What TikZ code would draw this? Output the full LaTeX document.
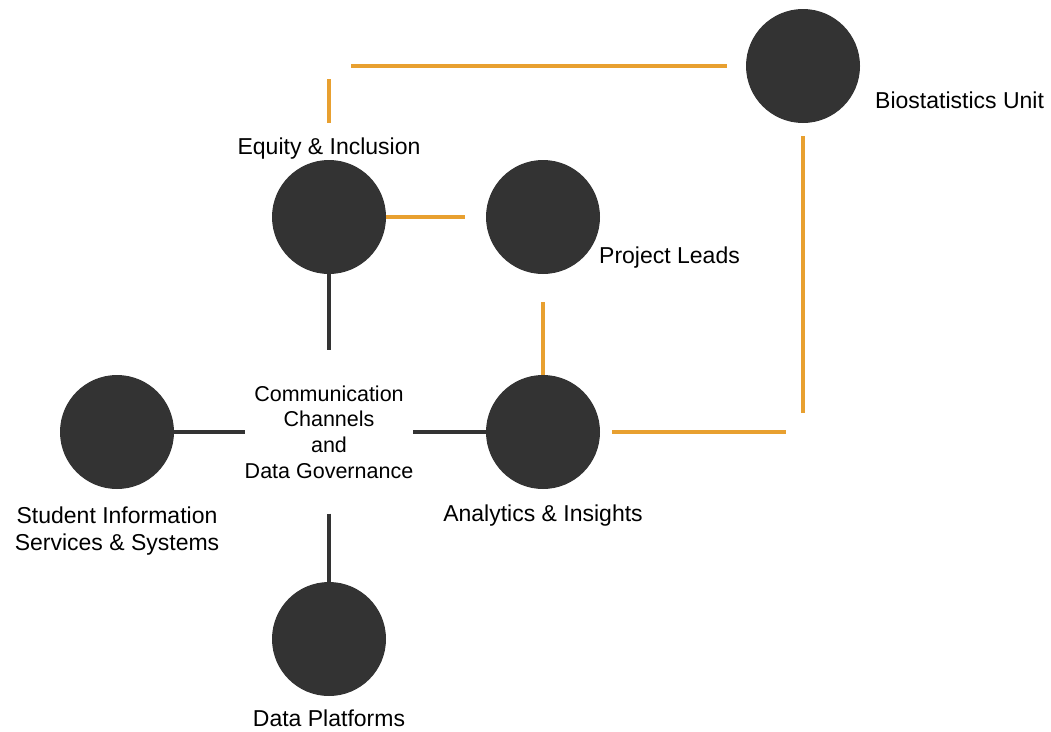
\documentclass[tikz,border=0pt]{standalone}
\usepackage{fontspec}
\setmainfont{Liberation Sans}
\usetikzlibrary{positioning}
\definecolor{dot}{HTML}{333333}
\definecolor{amber}{HTML}{E8A030}
\tikzset{
  hub/.style  = {circle, fill=dot, minimum size=114pt, inner sep=0pt},
  tag/.style  = {inner sep=0pt, text=black, font=\fontsize{23}{27}\selectfont, align=center},
  core/.style = {minimum width=165pt, minimum height=163pt, inner sep=0pt,
                 font=\fontsize{21.5}{25.7}\selectfont, align=center},
  grey/.style = {draw=dot, line width=3.8pt},
  gold/.style = {draw=amber, line width=3.8pt}
}

\begin{document}
\begin{tikzpicture}[x=1pt,y=-1pt]
  \useasboundingbox (0,0) rectangle (1051,731);

  % the six units and the hub in the middle
  \node[hub] (ei)  at (329,217) {};
  \node[hub] (pl)  at (543,217) {};
  \node[hub] (bio) at (803,66)  {};
  \node[hub] (sis) at (117,432) {};
  \node[hub] (ai)  at (543,432) {};
  \node[hub] (dp)  at (329,639) {};
  \node[core] (cc) at (329,432) {Communication\\Channels\\and\\Data Governance};

  \node[tag, above=0pt of ei] (ei-t) {Equity \& Inclusion};
  \node[tag, anchor=base west] (pl-t) at (599,263) {Project Leads};
  \node[tag, anchor=base west] (bio-t) at (875,108) {Biostatistics Unit};
  \node[tag, below=15pt of ai] (ai-t) {Analytics \& Insights};
  \node[tag, below=17pt of sis] (sis-t) {Student Information\\Services \& Systems};
  \node[tag, below=13pt of dp] (dp-t) {Data Platforms};

  % links to the hub
  \draw[grey] (sis) -- (cc);
  \draw[grey] (cc) -- (ai);
  \draw[grey] (ei) -- (cc);
  \draw[grey] (cc) -- (dp);

  % reporting lines
  \coordinate (k1) at (ai -| bio);
  \coordinate (k2) at (ei |- bio);
  \draw[gold, shorten >=21pt] (ei) -- (pl);
  \draw[gold, shorten <=28pt] (pl) -- (ai);
  \draw[gold, shorten <=12pt, shorten >=17pt] (ai) -- (k1);
  \draw[gold, shorten <=19pt, shorten >=13pt] (k1) -- (bio);
  \draw[gold, shorten <=15pt, shorten >=13pt] (ei-t) -- (k2);
  \draw[gold, shorten <=22pt, shorten >=19pt] (k2) -- (bio);
\end{tikzpicture}
\end{document}
